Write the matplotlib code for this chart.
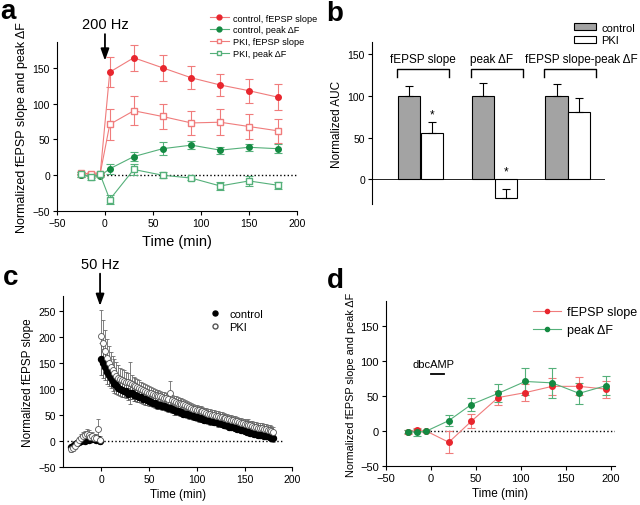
import numpy as np
import matplotlib
matplotlib.use('Agg')
import matplotlib.pyplot as plt
from matplotlib.lines import Line2D

plt.rcParams['font.family'] = ['Liberation Sans', 'DejaVu Sans']

red_mk = '#e8262e'
red_ln = '#f07c7c'
green_mk = '#148a42'
green_ln = '#55b07a'

# panel a
time_a = [-25, -15, -5, 5, 30, 60, 90, 120, 150, 180]
ctrl_slope = [0, 0, 1, 144, 164, 150, 136, 126, 118, 109]
ctrl_slope_err = [2, 2, 2, 21, 18, 18, 16, 16, 17, 18]
pki_slope = [3, 2, 2, 71, 90, 82, 73, 74, 68, 62]
pki_slope_err = [2, 2, 2, 22, 20, 18, 17, 18, 17, 17]
ctrl_peak = [0, -1, -1, 9, 26, 37, 42, 35, 39, 37]
ctrl_peak_err = [2, 3, 2, 7, 6, 9, 6, 5, 5, 6]
pki_peak = [2, -3, 1, -34, 8, 0, -4, -15, -8, -14]
pki_peak_err = [2, 4, 2, 6, 8, 4, 3, 5, 7, 5]

# panel b
groups_b = ['fEPSP slope', 'peak \u0394F', 'fEPSP slope-peak \u0394F']
auc_ctrl = [100, 100, 100]
auc_ctrl_err = [12, 16, 14]
auc_pki = [56, -23, 81]
auc_pki_err = [13, 11, 17]
stars = [True, True, False]

# panel c
pre_c = [-31, -29, -27, -25, -23, -21, -19, -17, -15, -13, -11, -9, -7, -5, -3, -1]
ctrl_pre = [-12, -9, -6, -3, -1, 0, 2, 1, 3, 2, 4, 3, 5, 2, 4, 1]
ctrl_pre_err = [4, 4, 4, 4, 4, 4, 4, 4, 4, 4, 4, 4, 4, 4, 5, 4]
pki_pre = [-16, -14, -10, -4, 2, 6, 10, 12, 14, 12, 8, 10, 6, 5, 24, 2]
pki_pre_err = [6, 6, 6, 6, 6, 7, 7, 8, 9, 9, 8, 8, 8, 8, 18, 8]
post_c = list(range(0, 181, 2))
ctrl_post = [158, 150, 143, 133, 127, 122, 115, 110, 107, 103,
             101, 99, 97, 96, 91, 93, 92, 88, 89, 87,
             85, 84, 81, 80, 79, 77, 76, 74, 73, 70,
             70, 69, 67, 67, 65, 64, 63, 62, 59, 58,
             57, 56, 55, 53, 53, 52, 50, 50, 48, 47,
             46, 44, 44, 43, 41, 41, 40, 38, 38, 37,
             36, 34, 34, 33, 31, 31, 30, 28, 28, 27,
             26, 24, 24, 22, 21, 19, 18, 17, 15, 15,
             14, 13, 12, 12, 11, 10, 10, 9, 8, 6, 5]
ctrl_post_err = [30, 28, 26, 24, 22, 20, 18, 17, 16, 15,
                 14, 14, 13, 13, 12, 12, 12, 11, 11, 11,
                 10, 10, 10, 10, 9, 9, 9, 9, 9, 9,
                 8, 8, 8, 8, 8, 8, 8, 8, 8, 8,
                 7, 7, 7, 7, 7, 7, 7, 7, 7, 7,
                 7, 7, 7, 7, 7, 7, 7, 7, 7, 7,
                 6, 6, 6, 6, 6, 6, 6, 6, 6, 6,
                 6, 6, 6, 6, 6, 6, 6, 6, 6, 6,
                 6, 6, 6, 6, 6, 6, 6, 6, 6, 6, 7]
pki_post = [202, 188, 174, 160, 150, 142, 136, 130, 126, 122,
            119, 117, 116, 114, 113, 112, 110, 108, 106, 104,
            102, 100, 98, 96, 95, 93, 92, 90, 89, 88,
            87, 86, 84, 83, 82, 80, 93, 79, 77, 76,
            74, 73, 72, 71, 70, 68, 66, 64, 62, 61,
            60, 59, 58, 57, 55, 54, 53, 52, 51, 50,
            49, 48, 47, 46, 45, 44, 43, 42, 41, 40,
            39, 38, 36, 35, 34, 33, 32, 31, 30, 29,
            28, 27, 26, 25, 25, 24, 23, 22, 21, 20, 18]
pki_post_err = [50, 45, 40, 36, 32, 30, 28, 27, 26, 24,
                22, 21, 20, 19, 18, 40, 17, 16, 16, 15,
                15, 14, 14, 13, 13, 12, 12, 12, 12, 11,
                11, 11, 11, 11, 10, 10, 22, 10, 10, 10,
                10, 10, 10, 10, 9, 9, 9, 9, 9, 9,
                9, 9, 9, 9, 9, 9, 9, 9, 9, 9,
                9, 9, 9, 9, 9, 9, 9, 9, 9, 9,
                9, 9, 9, 9, 9, 9, 9, 12, 9, 9,
                9, 9, 9, 9, 9, 9, 9, 9, 9, 9, 10]

# panel d
time_d = [-25, -15, -5, 20, 45, 75, 105, 135, 165, 195]
slope_d = [-1, 1, 0, -16, 14, 48, 55, 64, 64, 60]
slope_d_err = [3, 3, 1, 16, 10, 10, 12, 12, 13, 12]
peak_d = [-1, -1.5, 0, 15, 38, 54, 71, 69, 54, 65]
peak_d_err = [2, 5, 1, 8, 9, 13, 19, 21, 15, 14]

fig = plt.figure(figsize=(6.4, 5.06), dpi=100)


def style(ax, fs=7.5):
    ax.spines['top'].set_visible(False)
    ax.spines['right'].set_visible(False)
    ax.tick_params(direction='out', length=3, width=0.8, labelsize=fs, pad=2)


def arrow(ax, x, y0, y1):
    ax.annotate('', xy=(x, y0), xytext=(x, y1), xycoords='data',
                arrowprops=dict(arrowstyle='-|>,head_width=0.25,head_length=0.7',
                                color='k', lw=1.3, shrinkA=0, shrinkB=0),
                annotation_clip=False)


kw = dict(ms=4, lw=0.8, elinewidth=0.8, capsize=3, capthick=0.8)

# ---- a ----
ax = fig.add_axes([0.089, 0.581, 0.375, 0.334])
style(ax, 7.5)
ax.axhline(0, xmin=25 / 250, xmax=1, color='k', ls=':', lw=1)
ax.errorbar(time_a, ctrl_slope, yerr=ctrl_slope_err, fmt='-o', color=red_ln,
            mfc=red_mk, mec=red_mk, ecolor=red_ln, **kw)
ax.errorbar(time_a, ctrl_peak, yerr=ctrl_peak_err, fmt='-o', color=green_ln,
            mfc=green_mk, mec=green_mk, ecolor=green_ln, **kw)
ax.errorbar(time_a, pki_slope, yerr=pki_slope_err, fmt='-s', color=red_ln,
            mfc='white', mec=red_ln, ecolor=red_ln, **kw)
ax.errorbar(time_a, pki_peak, yerr=pki_peak_err, fmt='-s', color=green_ln,
            mfc='white', mec=green_ln, ecolor=green_ln, **kw)
ax.set_xlim(-50, 200)
ax.set_ylim(-50, 186)
ax.set_xticks([-50, 0, 50, 100, 150, 200])
ax.set_yticks([-50, 0, 50, 100, 150])
ax.set_xlabel('Time (min)', fontsize=10.5, labelpad=4)
ax.set_ylabel('Normalized fEPSP slope and peak \u0394F', fontsize=9, labelpad=3)
arrow(ax, 0, 160, 197)
ax.text(0, 201, '200 Hz', ha='center', va='bottom', fontsize=10.5, clip_on=False)
hand_a = [Line2D([], [], color=red_ln, lw=0.8, marker='o', ms=3.5, mfc=red_mk, mec=red_mk),
          Line2D([], [], color=green_ln, lw=0.8, marker='o', ms=3.5, mfc=green_mk, mec=green_mk),
          Line2D([], [], color=red_ln, lw=0.8, marker='s', ms=3.5, mfc='white', mec=red_ln),
          Line2D([], [], color=green_ln, lw=0.8, marker='s', ms=3.5, mfc='white', mec=green_ln)]
lab_a = ['control, fEPSP slope', 'control, peak \u0394F', 'PKI, fEPSP slope', 'PKI, peak \u0394F']
ax.legend(hand_a, lab_a, loc='upper left', bbox_to_anchor=(205 / 640, 1 - 10 / 506),
          bbox_transform=fig.transFigure, frameon=False, fontsize=6.6,
          handlelength=2.1, labelspacing=0.3, handletextpad=0.5, borderpad=0)

# ---- b ----
ax = fig.add_axes([0.581, 0.595, 0.364, 0.320])
ax.spines['top'].set_visible(False)
ax.spines['right'].set_visible(False)
ax.spines['bottom'].set_visible(False)
ax.tick_params(axis='y', direction='out', length=3, width=0.8, labelsize=7.5, pad=2)
ax.tick_params(axis='x', bottom=False, labelbottom=False)
xb = np.arange(len(groups_b))
w = 0.3
ax.bar(xb - 0.155, auc_ctrl, w, color='#a3a3a3', edgecolor='k', lw=0.8,
       yerr=[[0] * 3, auc_ctrl_err], error_kw=dict(lw=0.8, capsize=3, capthick=0.8),
       label='control')
ax.bar(xb + 0.155, auc_pki, w, color='white', edgecolor='k', lw=0.8,
       yerr=[[0] * 3, auc_pki_err], error_kw=dict(lw=0.8, capsize=3, capthick=0.8),
       label='PKI')
ax.axhline(0, color='k', lw=0.6)
label_dx = [0.03, -0.03, 0.18]
for i in range(len(groups_b)):
    if stars[i]:
        top = max(auc_pki[i] + auc_pki_err[i], 0)
        ax.text(xb[i] + 0.155, top + 9, '*', ha='center', va='center', fontsize=8.5)
    x0, x1 = xb[i] - 0.32, xb[i] + 0.385
    ax.plot([x0, x0, x1, x1], [123, 133, 133, 123], color='k', lw=1, clip_on=False)
    ax.text(xb[i] + label_dx[i], 144, groups_b[i], ha='center', va='center', fontsize=8.5,
            clip_on=False)
ax.set_xlim(-0.66, 2.5)
ax.set_ylim(-30, 165)
ax.set_yticks([0, 50, 100, 150])
ax.set_ylabel('Normalized AUC', fontsize=8.5, labelpad=3)
ax.legend(loc='upper left', bbox_to_anchor=(568 / 640, 1 - 18 / 506),
          bbox_transform=fig.transFigure, frameon=False, fontsize=8,
          handlelength=2.0, handleheight=0.6, labelspacing=0.25, handletextpad=0.5,
          borderpad=0)

# ---- c ----
ax = fig.add_axes([0.098, 0.075, 0.359, 0.338])
style(ax, 7.5)
ax.axhline(0, xmin=4 / 240, xmax=230 / 240, color='k', ls=':', lw=1)
tc = pre_c + post_c
ax.errorbar(tc, ctrl_pre + ctrl_post, yerr=ctrl_pre_err + ctrl_post_err, fmt='o',
            ms=4.3, mfc='k', mec='k', ecolor='#4a4a4a', elinewidth=0.6, capsize=1.5,
            capthick=0.5)
ax.errorbar(tc, pki_pre + pki_post, yerr=pki_pre_err + pki_post_err, fmt='o',
            ms=4.3, mfc='white', mec='#555555', mew=0.6, ecolor='#6a6a6a', elinewidth=0.6,
            capsize=1.5, capthick=0.5)
ax.set_xlim(-40, 200)
ax.set_ylim(-50, 279)
ax.set_xticks([0, 50, 100, 150, 200])
ax.set_yticks([-50, 0, 50, 100, 150, 200, 250])
ax.set_xlabel('Time (min)', fontsize=8.5, labelpad=3)
ax.set_ylabel('Normalized fEPSP slope', fontsize=8.5, labelpad=3)
arrow(ax, -1, 260, 322)
ax.text(-1, 327, '50 Hz', ha='center', va='bottom', fontsize=10.5, clip_on=False)
ax.legend([Line2D([], [], ls='', marker='o', ms=3.6, mfc='k', mec='k'),
           Line2D([], [], ls='', marker='o', ms=3.6, mfc='white', mec='#555555')],
          ['control', 'PKI'],
          loc='upper left', bbox_to_anchor=(204 / 640, 1 - 304 / 506),
          bbox_transform=fig.transFigure, frameon=False, fontsize=8,
          handlelength=1.0, labelspacing=0.3, handletextpad=0.8, borderpad=0)

# ---- d ----
ax = fig.add_axes([0.603, 0.077, 0.358, 0.326])
style(ax, 8)
ax.axhline(0, xmin=25 / 255, xmax=1, color='k', ls=':', lw=1)
ax.errorbar(time_d, slope_d, yerr=slope_d_err, fmt='-o', color=red_ln, mfc=red_mk,
            mec=red_mk, ecolor=red_ln, **kw)
ax.errorbar(time_d, peak_d, yerr=peak_d_err, fmt='-o', color=green_ln, mfc=green_mk,
            mec=green_mk, ecolor=green_ln, **kw)
ax.plot([0, 15], [82, 82], color='k', lw=1.3)
ax.text(3, 89, 'dbcAMP', ha='center', va='bottom', fontsize=8)
ax.set_xlim(-50, 205)
ax.set_ylim(-50, 186)
ax.set_xticks([-50, 0, 50, 100, 150, 200])
ax.set_yticks([-50, 0, 50, 100, 150])
ax.set_xlabel('Time (min)', fontsize=8.5, labelpad=3)
ax.set_ylabel('Normalized fEPSP slope and peak \u0394F', fontsize=7.8, labelpad=3)
hand_d = [Line2D([], [], color=red_ln, lw=0.8, marker='o', ms=3, mfc=red_mk, mec=red_mk),
          Line2D([], [], color=green_ln, lw=0.8, marker='o', ms=3, mfc=green_mk, mec=green_mk)]
ax.legend(hand_d, ['fEPSP slope', 'peak \u0394F'], loc='upper left',
          bbox_to_anchor=(527 / 640, 1 - 301 / 506),
          bbox_transform=fig.transFigure, frameon=False, fontsize=9,
          handlelength=2.2, labelspacing=0.45, handletextpad=0.5, borderpad=0)

# panel letters
for x, y, s in [(0.0, 0.962, 'a'), (0.510, 0.958, 'b'), (0.004, 0.437, 'c'), (0.510, 0.430, 'd')]:
    fig.text(x, y, s, fontsize=20, fontweight='bold', va='baseline', ha='left')

fig.savefig('out.png', dpi=100)
